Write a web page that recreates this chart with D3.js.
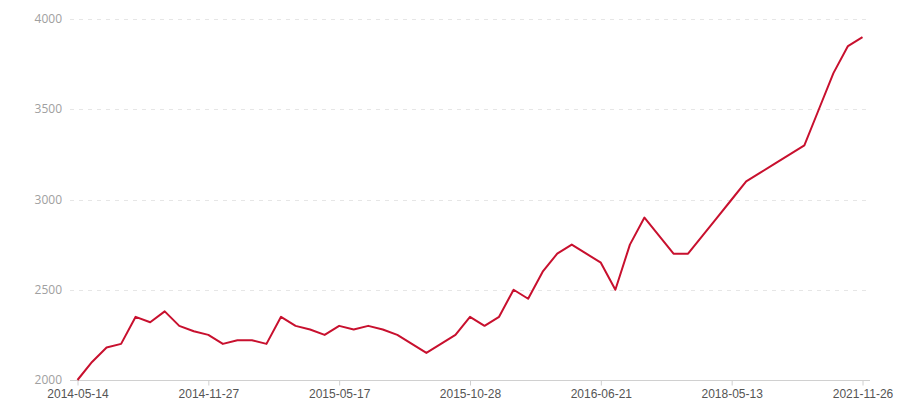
<!DOCTYPE html>
<html><head><meta charset="utf-8">
<script src="https://cdn.jsdelivr.net/npm/d3@7"></script>
<style>body{margin:0;background:#fff;}svg{display:block;font-family:"Segoe UI","Open Sans","Noto Sans",sans-serif;}</style>
</head><body><svg id="c" width="900" height="400"></svg>
<script>
const categories = ["2014-05-14","2014-06-05","2014-06-27","2014-07-19","2014-08-10","2014-09-01","2014-09-23","2014-10-15","2014-11-06","2014-11-27",
"2014-12-16","2015-01-04","2015-01-23","2015-02-11","2015-03-02","2015-03-21","2015-04-09","2015-04-28","2015-05-17",
"2015-06-04","2015-06-22","2015-07-10","2015-07-28","2015-08-15","2015-09-02","2015-09-20","2015-10-09","2015-10-28",
"2015-11-23","2015-12-19","2016-01-14","2016-02-09","2016-03-06","2016-04-01","2016-04-27","2016-05-24","2016-06-21",
"2016-09-06","2016-11-22","2017-02-07","2017-04-25","2017-07-11","2017-09-26","2017-12-12","2018-02-27","2018-05-13",
"2018-10-04","2019-02-25","2019-07-19","2019-12-10","2020-05-02","2020-09-23","2021-02-14","2021-07-08","2021-11-26"];
const values = [2000,2100,2180,2200,2350,2320,2380,2300,2270,2250,
2200,2220,2220,2200,2350,2300,2280,2250,2300,
2280,2300,2280,2250,2200,2150,2200,2250,2350,
2300,2350,2500,2450,2600,2700,2750,2700,2650,
2500,2750,2900,2800,2700,2700,2800,2900,3000,
3100,3150,3200,3250,3300,3500,3700,3850,3900];
const xTickLabels = ["2014-05-14","2014-11-27","2015-05-17","2015-10-28","2016-06-21","2018-05-13","2021-11-26"];
const yTicks = [2000,2500,3000,3500,4000];

(function(){
const svg = d3.select("#c");
const left = 70, right = 870, topY = 19, bottom = 380;
const x = d3.scalePoint().domain(categories).range([77.5, 862.5]);
const y = d3.scaleLinear().domain([2000,4000]).range([bottom, topY]);

// grid
svg.append("g").selectAll("line").data(yTicks.filter(d=>d!==2000)).join("line")
  .attr("x1", left).attr("x2", right)
  .attr("y1", d=>Math.round(y(d))+0.5).attr("y2", d=>Math.round(y(d))+0.5)
  .attr("stroke", "#e6e6e6").attr("stroke-dasharray", "4,5");

// y labels
svg.append("g").selectAll("text").data(yTicks).join("text")
  .attr("x", 62).attr("y", d=>y(d)+4)
  .attr("text-anchor","end").attr("font-size",12).attr("fill","#a0a0a0")
  .text(d=>d);

// x axis
const xAxis = d3.axisBottom(x).tickValues(xTickLabels).tickSize(5).tickSizeOuter(0);
const gx = svg.append("g").attr("transform", `translate(0,${bottom+0.5})`).call(xAxis);
gx.select(".domain").attr("d", `M${left},0H${right}`).attr("stroke","#d0d0d0");
gx.selectAll(".tick line").attr("stroke","#d0d0d0");
gx.selectAll(".tick text").attr("font-size",12).attr("fill","#555").attr("font-family",null).attr("dy","0.71em").attr("y",9);

// line
svg.append("path").datum(values)
  .attr("fill","none").attr("stroke","#c8102e").attr("stroke-width",2).attr("stroke-linejoin","round")
  .attr("d", d3.line().x((d,i)=>x(categories[i])).y(d=>y(d)));
})();
</script></body></html>
